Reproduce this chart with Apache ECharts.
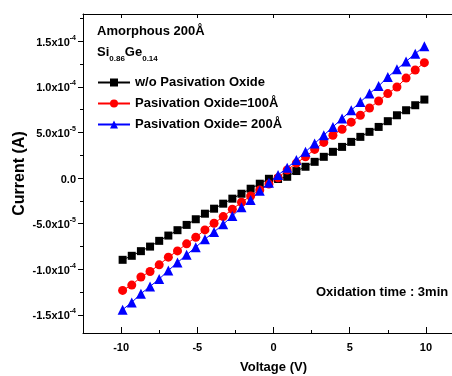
<!DOCTYPE html>
<html>
<head>
<meta charset="utf-8">
<script src="https://cdn.jsdelivr.net/npm/echarts@6/dist/echarts.min.js"></script>
<style>
  html, body { margin: 0; padding: 0; background: #fff; }
  #chart { width: 452px; height: 376px; }
</style>
</head>
<body>
<div id="chart"></div>
<script>
// voltage sweep (V)
var voltage = [-9.9, -9.3, -8.7, -8.1, -7.5, -6.9, -6.3, -5.7, -5.1, -4.5, -3.9, -3.3, -2.7, -2.1, -1.5, -0.9, -0.3,
    0.3, 0.9, 1.5, 2.1, 2.7, 3.3, 3.9, 4.5, 5.1, 5.7, 6.3, 6.9, 7.5, 8.1, 8.7, 9.3, 9.9];

// current, in units of 1e-5 A
var noOxide = [-8.97, -8.53, -8.02, -7.52, -6.89, -6.31, -5.72, -5.14, -4.52, -3.91, -3.36, -2.81, -2.26, -1.72, -1.17, -0.62, -0.08,
    -0.1, 0.14, 0.77, 1.24, 1.78, 2.33, 2.88, 3.42, 3.97, 4.52, 5.07, 5.61, 6.24, 6.89, 7.44, 7.99, 8.61];
var oxide100 = [-12.33, -11.74, -10.86, -10.25, -9.52, -8.68, -7.99, -7.22, -6.49, -5.69, -4.96, -4.23, -3.42, -2.66, -1.97, -1.31, -0.66,
    0.03, 0.88, 1.64, 2.33, 3.14, 3.91, 4.70, 5.36, 6.13, 6.89, 7.69, 8.46, 9.27, 9.99, 10.97, 11.85, 12.66];
var oxide200 = [-14.44, -13.64, -12.69, -11.89, -11.08, -10.14, -9.27, -8.42, -7.58, -6.71, -5.91, -5.07, -4.16, -3.21, -2.41, -1.39, -0.51,
    0.33, 1.13, 1.97, 2.88, 3.80, 4.70, 5.61, 6.53, 7.44, 8.35, 9.27, 10.10, 11.08, 11.93, 12.80, 13.64, 14.47];

var seriesNames = ['w/o Pasivation Oxide', 'Pasivation Oxide=100Å', 'Pasivation Oxide= 200Å'];

// axis ticks
var xTicks = [-10, -5, 0, 5, 10];
var xMinorTicks = [-12.5, -7.5, -2.5, 2.5, 7.5, 12.5];
var yTicks = [-15, -10, -5, 0, 5, 10, 15];
var yTickLabels = ['{b|-1.5x10}{s|-4}', '{b|-1.0x10}{s|-4}', '{b|-5.0x10}{s|-5}', '{b|0.0}',
    '{b|5.0x10}{s|-5}', '{b|1.0x10}{s|-4}', '{b|1.5x10}{s|-4}'];
var yMinorTicks = [-12.5, -7.5, -2.5, 2.5, 7.5, 12.5, 17.5];

function pairs(vals) {
    var out = [];
    for (var i = 0; i < voltage.length; i++) {
        out.push([voltage[i], vals[i]]);
    }
    return out;
}

var font = 'Liberation Sans, Arial, sans-serif';
var chart = echarts.init(document.getElementById('chart'));

var lineSeries = function(name, vals, color, symbol, size) {
    return {
        name: name,
        type: 'line',
        xAxisIndex: 0,
        yAxisIndex: 0,
        data: pairs(vals),
        symbol: symbol,
        symbolSize: size,
        showAllSymbol: true,
        color: color,
        lineStyle: { color: color, width: 1 },
        itemStyle: { color: color },
        animation: false
    };
};

var option = {
    animation: false,
    backgroundColor: '#fff',
    textStyle: { fontFamily: font },
    grid: {
        left: 83,
        top: 14,
        right: -12,
        bottom: 43,
        containLabel: false,
        outerBoundsMode: 'none'
    },
    title: [{
        text: 'Amorphous 200Å',
        left: 97, top: 25, padding: 0,
        textStyle: { fontSize: 13, fontWeight: 'bold', color: '#000', fontFamily: font }
    }, {
        text: '{b|Si}{s|0.86}{b|Ge}{s|0.14}',
        left: 97, top: 46, padding: 0,
        textStyle: {
            rich: {
                b: { fontSize: 13, fontWeight: 'bold', color: '#000', fontFamily: font, lineHeight: 17, verticalAlign: 'top' },
                s: { fontSize: 8, fontWeight: 'bold', color: '#000', fontFamily: font, lineHeight: 17, verticalAlign: 'bottom' }
            }
        }
    }, {
        text: 'Oxidation time : 3min',
        left: 316, top: 286, padding: 0,
        textStyle: { fontSize: 13, fontWeight: 'bold', color: '#000', fontFamily: font }
    }],
    legend: {
        data: seriesNames,
        orient: 'vertical',
        left: 97,
        top: 76,
        padding: 0,
        itemWidth: 32,
        itemHeight: 10,
        itemGap: 8,
        textStyle: { fontSize: 13, fontWeight: 'bold', color: '#000', fontFamily: font }
    },
    xAxis: [{
        type: 'value',
        min: -12.5,
        max: 12.5,
        position: 'bottom',
        name: 'Voltage (V)',
        nameLocation: 'middle',
        nameGap: 28,
        nameTextStyle: { fontSize: 13, fontWeight: 'bold', color: '#000', fontFamily: font },
        axisLine: { show: true, onZero: false, lineStyle: { color: '#000', width: 1 } },
        axisTick: { show: true, inside: true, length: 6, customValues: xTicks, lineStyle: { color: '#000' } },
        axisLabel: { show: true, customValues: xTicks, margin: 9, fontSize: 11, fontWeight: 'bold', color: '#000', fontFamily: font },
        splitLine: { show: false }
    }, {
        type: 'value',
        min: -12.5,
        max: 12.5,
        position: 'bottom',
        axisLine: { show: false, onZero: false },
        axisTick: { show: true, inside: true, length: 3, customValues: xMinorTicks, lineStyle: { color: '#000' } },
        axisLabel: { show: false },
        splitLine: { show: false }
    }, {
        type: 'value',
        min: -12.5,
        max: 12.5,
        position: 'top',
        axisLine: { show: true, onZero: false, lineStyle: { color: '#000', width: 1 } },
        axisTick: { show: true, inside: true, length: 4, customValues: xTicks, lineStyle: { color: '#000' } },
        axisLabel: { show: false },
        splitLine: { show: false }
    }],
    yAxis: [{
        type: 'value',
        min: -17,
        max: 18,
        position: 'left',
        name: 'Current (A)',
        nameLocation: 'middle',
        nameRotate: 90,
        nameGap: 55,
        nameMoveOverlap: false,
        nameTextStyle: { fontSize: 16, fontWeight: 'bold', color: '#000', fontFamily: font },
        axisLine: { show: true, onZero: false, lineStyle: { color: '#000', width: 1 } },
        axisTick: { show: true, inside: false, length: 5, customValues: yTicks, lineStyle: { color: '#000' } },
        axisLabel: {
            show: true,
            customValues: yTicks,
            margin: 7,
            formatter: function(v) {
                for (var i = 0; i < yTicks.length; i++) {
                    if (Math.abs(yTicks[i] - v) < 1e-6) return yTickLabels[i];
                }
                return '';
            },
            rich: {
                b: { fontSize: 11, fontWeight: 'bold', color: '#000', fontFamily: font, lineHeight: 14, verticalAlign: 'bottom' },
                s: { fontSize: 7, fontWeight: 'bold', color: '#000', fontFamily: font, lineHeight: 14, verticalAlign: 'top' }
            }
        },
        splitLine: { show: false }
    }, {
        type: 'value',
        min: -17,
        max: 18,
        position: 'left',
        axisLine: { show: false, onZero: false },
        axisTick: { show: true, inside: false, length: 3, customValues: yMinorTicks, lineStyle: { color: '#000' } },
        axisLabel: { show: false },
        splitLine: { show: false }
    }],
    series: [
        lineSeries(seriesNames[0], noOxide, '#000000', 'rect', 8),
        lineSeries(seriesNames[1], oxide100, '#ff0000', 'circle', 9),
        lineSeries(seriesNames[2], oxide200, '#0000ff', 'triangle', 10)
    ]
};

chart.setOption(option);
</script>
</body>
</html>
